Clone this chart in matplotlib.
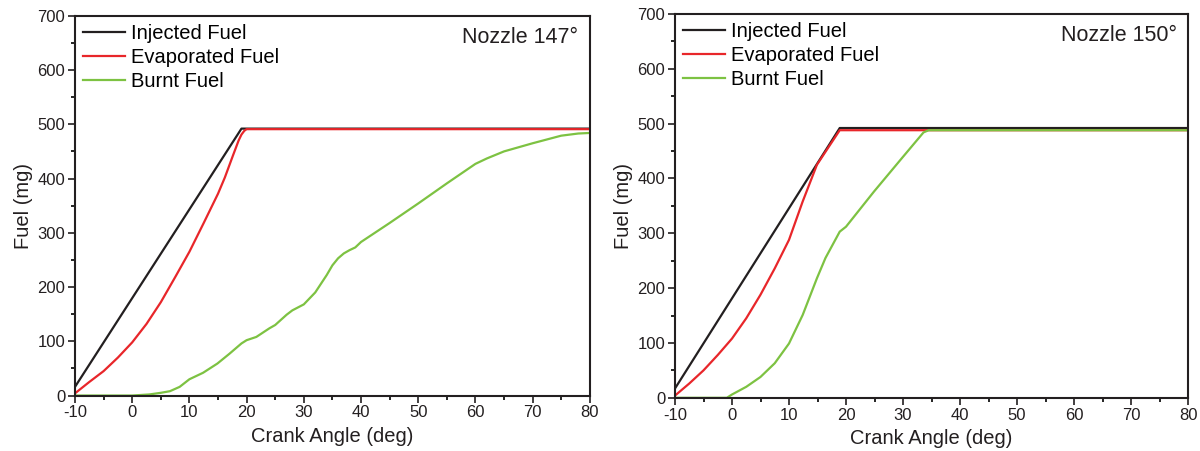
import matplotlib
matplotlib.use("Agg")
import matplotlib.pyplot as plt
from matplotlib.ticker import MultipleLocator

plt.rcParams["font.family"] = ["Liberation Sans", "DejaVu Sans"]
plt.rcParams["axes.unicode_minus"] = False

BLACK = "#231f20"
RED = "#e8262a"
GREEN = "#7dc242"

# Nozzle 147
inj_147_x = [-10, 19.1, 80]
inj_147_y = [16, 492, 492]
evap_147_x = [-10, -7.5, -5, -2.5, 0, 2.5, 5, 7.5, 10, 12.5, 15, 16.2, 17.6, 18.6, 19.1, 19.6, 20, 80]
evap_147_y = [4, 25, 45, 70, 98, 132, 172, 218, 265, 318, 372, 402, 442, 470, 481, 488, 491, 491]
burnt_147_x = [-10, 0, 3, 5, 6.6, 8.3, 10, 12.4, 14.9, 17, 19.1, 20, 21.7, 24, 25, 27, 28, 30,
               32, 34, 35, 36, 37, 38, 39, 40, 45, 50, 55, 60, 62, 65, 70, 75, 78, 80]
burnt_147_y = [0, 0, 2, 5, 8, 16, 30, 42, 59, 77, 96, 102, 108, 124, 130, 149, 157, 168,
               190, 222, 240, 253, 262, 268, 273, 283, 318, 354, 391, 427, 437, 450, 465, 479, 483, 484]

# Nozzle 150
inj_150_x = [-10, 18.9, 80]
inj_150_y = [17, 492, 492]
evap_150_x = [-10, -7.5, -5, -2.5, 0, 2.5, 5, 7.5, 10, 12.4, 14.9, 18.9, 80]
evap_150_y = [4, 26, 50, 78, 108, 145, 188, 236, 288, 358, 425, 488, 488]
burnt_150_x = [-10, -0.9, 0, 2.5, 5, 7.5, 10, 12.4, 14.9, 16.4, 18.9, 20, 24.9, 29.8, 33.6, 34.5, 80]
burnt_150_y = [0, 0, 6, 20, 38, 63, 99, 151, 218, 255, 303, 312, 376, 437, 484, 488, 488]

panels = [
    ("Nozzle 147\u00b0", inj_147_x, inj_147_y, evap_147_x, evap_147_y, burnt_147_x, burnt_147_y,
     [0.0625, 0.123, 0.429, 0.842]),
    ("Nozzle 150\u00b0", inj_150_x, inj_150_y, evap_150_x, evap_150_y, burnt_150_x, burnt_150_y,
     [0.5625, 0.118, 0.4275, 0.851]),
]

fig = plt.figure(figsize=(12, 4.51), dpi=100)

for title, ix, iy, ex, ey, bx, by, rect in panels:
    ax = fig.add_axes(rect)
    ax.plot(ix, iy, color=BLACK, lw=1.6, label="Injected Fuel")
    ax.plot(ex, ey, color=RED, lw=1.6, label="Evaporated Fuel")
    ax.plot(bx, by, color=GREEN, lw=1.6, label="Burnt Fuel")
    ax.set_xlim(-10, 80)
    ax.set_ylim(0, 700)
    ax.xaxis.set_major_locator(MultipleLocator(10))
    ax.xaxis.set_minor_locator(MultipleLocator(5))
    ax.yaxis.set_major_locator(MultipleLocator(100))
    ax.yaxis.set_minor_locator(MultipleLocator(50))
    ax.tick_params(which="major", direction="out", length=5, width=1.2, labelsize=12,
                   colors=BLACK, pad=2)
    ax.tick_params(which="minor", direction="out", length=3, width=1.2)
    for s in ax.spines.values():
        s.set_linewidth(1.5)
        s.set_color(BLACK)
    ax.set_xlabel("Crank Angle (deg)", fontsize=14.5, color=BLACK, labelpad=5)
    ax.set_ylabel("Fuel (mg)", fontsize=14.5, color=BLACK, labelpad=3)
    ax.text(0.978, 0.97, title, transform=ax.transAxes, ha="right", va="top",
            fontsize=15.5, color=BLACK)
    ax.legend(loc="upper left", frameon=False, fontsize=14.5, handlelength=2.1,
              handletextpad=0.3, labelspacing=0.25, borderaxespad=0.2,
              borderpad=0.2)

fig.savefig("out.png", dpi=100)
